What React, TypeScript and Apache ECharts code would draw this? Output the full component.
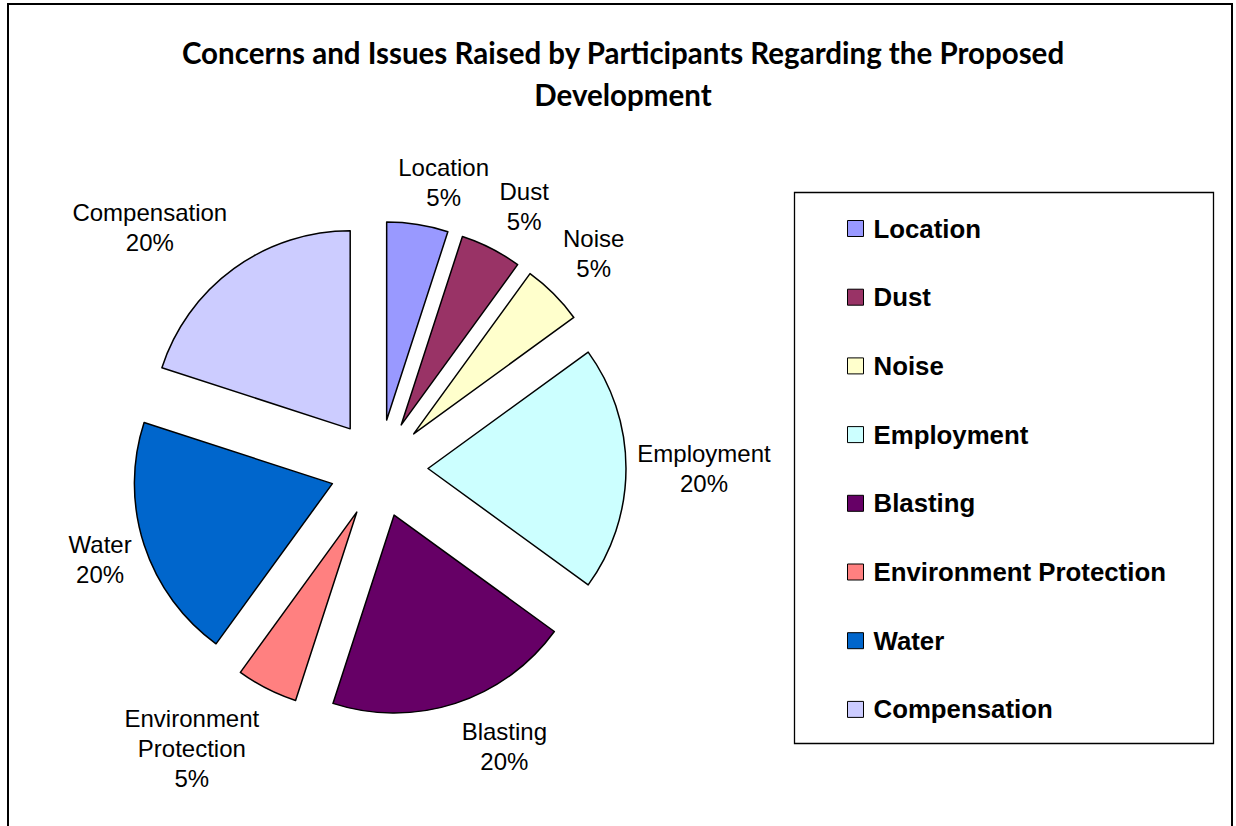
import React, { useEffect, useRef } from "react";
import * as echarts from "echarts";

// ---- data ----
const categories = [
  "Location",
  "Dust",
  "Noise",
  "Employment",
  "Blasting",
  "Environment Protection",
  "Water",
  "Compensation",
];
const values = [5, 5, 5, 20, 20, 5, 20, 20];
const labelNames = [
  "Location",
  "Dust",
  "Noise",
  "Employment",
  "Blasting",
  "Environment\nProtection",
  "Water",
  "Compensation",
];
const titleText =
  "Concerns and Issues Raised by Participants Regarding the Proposed\nDevelopment";

// ---- styles / layout ----
const colors = [
  "#9999FF",
  "#993366",
  "#FFFFCC",
  "#CCFFFF",
  "#660066",
  "#FF8080",
  "#0066CC",
  "#CCCCFF",
];
const CX = 379;
const CY = 468.5;
const R = 198;
const OFFSET = 49;
// label centre nudge relative to the exploded slice's outer mid point
const labelNudge: number[][] = [
  [26, -42],
  [33, -42],
  [40, -40],
  [78, 0],
  [49, 43],
  [-75, 60],
  [-44, 15],
  [-84, -41],
];

export default function App() {
  const ref = useRef<HTMLDivElement>(null);
  useEffect(() => {
    if (!ref.current) return;
    const chart = echarts.init(ref.current, null, { renderer: "svg" });
    const total = values.reduce((a, b) => a + b, 0);
    const option: any = {
      animation: false,
      backgroundColor: "#fff",
      title: {
        text: titleText,
        left: 623,
        top: 31,
        padding: 0,
        textAlign: "center",
        textStyle: {
          fontFamily: "Lato",
          fontWeight: "bold",
          fontSize: 29.5,
          lineHeight: 42,
          color: "#000",
        },
      },
      legend: {
        orient: "vertical",
        left: 847,
        top: 215.5,
        padding: 0,
        itemWidth: 16,
        itemHeight: 16,
        itemGap: 42.7,
        icon: "rect",
        selectedMode: false,
        data: categories,
        itemStyle: { borderColor: "#000", borderWidth: 1 },
        textStyle: {
          fontFamily: "Liberation Sans",
          fontWeight: "bold",
          fontSize: 25.8,
          color: "#000",
          padding: [0, 0, 0, 5],
        },
      },
      graphic: [
        {
          type: "rect",
          shape: { x: 8, y: 4, width: 1224, height: 850 },
          style: { fill: "none", stroke: "#000", lineWidth: 2 },
          silent: true,
        },
        {
          type: "rect",
          shape: { x: 794.5, y: 192.5, width: 419, height: 551 },
          style: { fill: "none", stroke: "#000", lineWidth: 1.3 },
          silent: true,
        },
      ],
      series: [
        {
          name: "slices",
          type: "pie",
          z: 3,
          center: [CX, CY],
          radius: R,
          startAngle: 90,
          clockwise: true,
          selectedMode: "multiple",
          selectedOffset: OFFSET,
          emphasis: { disabled: true },
          itemStyle: { borderColor: "#000", borderWidth: 1.5 },
          label: { show: false },
          labelLine: { show: false },
          data: categories.map((name, i) => ({
            name,
            value: values[i],
            selected: true,
            itemStyle: { color: colors[i] },
            select: {
              itemStyle: { color: colors[i], borderColor: "#000", borderWidth: 1.5 },
            },
          })),
        },
        {
          name: "labels",
          type: "pie",
          z: 1,
          silent: true,
          center: [CX, CY],
          radius: R,
          startAngle: 90,
          clockwise: true,
          selectedMode: false,
          emphasis: { disabled: true },
          itemStyle: { color: "rgba(0,0,0,0)", borderWidth: 0 },
          avoidLabelOverlap: false,
          label: {
            show: true,
            position: "outside",
            fontFamily: "Liberation Sans",
            fontSize: 24,
            lineHeight: 30,
            color: "#000",
            formatter: (p: any) =>
              labelNames[p.dataIndex] + "\n" + Math.round(p.percent) + "%",
          },
          labelLine: { show: false },
          labelLayout: (p: any) => {
            const i = p.dataIndex;
            let cum = 0;
            for (let k = 0; k < i; k++) cum += values[k];
            const mid = ((cum + values[i] / 2) / total) * Math.PI * 2;
            const ux = Math.sin(mid);
            const uy = -Math.cos(mid);
            return {
              x: CX + ux * (R + OFFSET) + labelNudge[i][0],
              y: CY + uy * (R + OFFSET) + labelNudge[i][1],
              align: "center",
              verticalAlign: "middle",
            };
          },
          data: categories.map((name, i) => ({ name, value: values[i] })),
        },
      ],
    };
    chart.setOption(option);
    return () => chart.dispose();
  }, []);
  return (
    <div
      ref={ref}
      style={{ position: "absolute", left: 0, top: 0, width: 1236, height: 826 }}
    />
  );
}
